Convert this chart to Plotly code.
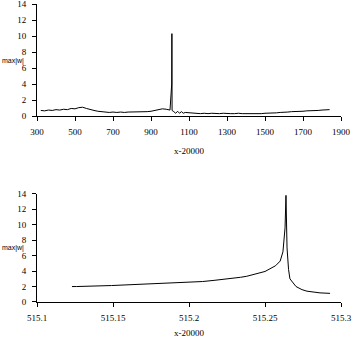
import plotly.graph_objects as go
from plotly.subplots import make_subplots

# Upper panel: max|w| over the full x-20000 range
x_full = [320, 340, 360, 380, 400, 420, 440, 460, 480, 500, 520, 540, 560, 580,
          600, 620, 640, 660, 680, 700, 720, 740, 760, 780, 800, 820, 840, 860,
          880, 900, 920, 940, 960, 980, 1000, 1009, 1010, 1011, 1020, 1030, 1040,
          1050, 1060, 1070, 1080, 1100, 1120, 1140, 1160, 1180, 1200, 1220, 1240,
          1260, 1280, 1300, 1320, 1340, 1360, 1380, 1400, 1420, 1440, 1460, 1480,
          1500, 1520, 1540, 1560, 1580, 1600, 1620, 1640, 1660, 1680, 1700, 1720,
          1740, 1760, 1780, 1800, 1820, 1840]
w_full = [0.70, 0.65, 0.75, 0.70, 0.80, 0.75, 0.85, 0.80, 0.95, 0.90, 1.05, 1.10,
          0.95, 0.80, 0.70, 0.60, 0.55, 0.50, 0.45, 0.50, 0.45, 0.50, 0.45, 0.50,
          0.50, 0.55, 0.50, 0.55, 0.55, 0.60, 0.70, 0.80, 0.90, 0.85, 0.75, 4.00,
          10.30, 0.70, 0.55, 0.35, 0.60, 0.35, 0.55, 0.35, 0.45, 0.40, 0.35, 0.35,
          0.30, 0.35, 0.30, 0.35, 0.30, 0.30, 0.35, 0.30, 0.30, 0.30, 0.35, 0.30,
          0.30, 0.25, 0.25, 0.30, 0.30, 0.35, 0.35, 0.40, 0.40, 0.45, 0.45, 0.50,
          0.55, 0.55, 0.60, 0.60, 0.65, 0.65, 0.70, 0.70, 0.75, 0.75, 0.80]

# Lower panel: detail around the resonance near x-20000 = 515.264
x_zoom = [515.123, 515.126, 515.149, 515.172, 515.1875, 515.200, 515.209,
          515.2165, 515.225, 515.230, 515.234, 515.238, 515.2415, 515.245,
          515.2474, 515.250, 515.257, 515.260, 515.2618, 515.2625, 515.2632,
          515.2638, 515.2645, 515.2655, 515.2664, 515.2704, 515.2743, 515.2776,
          515.2816, 515.2862, 515.2928]
w_zoom = [2.00, 2.00, 2.13, 2.30, 2.40, 2.50, 2.65, 2.80, 2.95, 3.07, 3.20, 3.33,
          3.50, 3.65, 3.80, 3.95, 4.70, 5.30, 6.50, 7.80, 9.60, 13.80, 7.00, 4.20,
          3.00, 2.00, 1.60, 1.40, 1.26, 1.18, 1.12]

top_ticks = [300, 500, 700, 900, 1100, 1300, 1500, 1700, 1900]
bottom_ticks = [515.1, 515.15, 515.2, 515.25, 515.3]
bottom_tick_text = ["515.1", "515.15", "515.2", "515.25", "515.3"]
y_ticks = [0, 2, 4, 6, 8, 10, 12, 14]

serif = "Liberation Serif"

fig = make_subplots(rows=2, cols=1, vertical_spacing=0.26)
fig.add_trace(go.Scatter(x=x_full, y=w_full, mode="lines",
                         line=dict(color="black", width=1)), row=1, col=1)
fig.add_trace(go.Scatter(x=x_zoom, y=w_zoom, mode="lines",
                         line=dict(color="black", width=1)), row=2, col=1)

axis_style = dict(showline=True, linecolor="black", linewidth=1, ticks="outside",
                  ticklen=4, tickcolor="black", tickwidth=1, showgrid=False,
                  zeroline=False, tickfont=dict(family=serif, size=9, color="black"),
                  mirror=False, automargin=False, ticklabeloverflow="allow")

fig.update_xaxes(**axis_style, range=[300, 1900], tickvals=top_ticks,
                 ticklabelstandoff=3, row=1, col=1)
fig.update_xaxes(**axis_style, range=[515.1, 515.3], tickvals=bottom_ticks,
                 ticktext=bottom_tick_text, ticklabelstandoff=3, row=2, col=1)
fig.update_yaxes(**axis_style, range=[0, 14], tickvals=y_ticks,
                 ticklabelstandoff=4, row=1, col=1)
fig.update_yaxes(**axis_style, range=[0, 14], tickvals=y_ticks,
                 ticklabelstandoff=4, row=2, col=1)

fig.update_layout(
    yaxis=dict(domain=[0.624, 1.0]),
    yaxis2=dict(domain=[0.0, 0.363]),
    width=355, height=340,
    margin=dict(l=37, r=14, t=4, b=38, autoexpand=False),
    plot_bgcolor="white", paper_bgcolor="white",
    showlegend=False,
)

# Axis titles placed as annotations
annots = [
    dict(text="max|w|", x=-0.122, y=0.81, xanchor="left", yanchor="middle",
         font=dict(family="Liberation Sans", size=7, color="black")),
    dict(text="max|w|", x=-0.122, y=0.18, xanchor="left", yanchor="middle",
         font=dict(family="Liberation Sans", size=7, color="black")),
    dict(text="x-20000", x=0.5, y=0.507, xanchor="center", yanchor="middle",
         font=dict(family=serif, size=9, color="black")),
    dict(text="x-20000", x=0.5, y=-0.105, xanchor="center", yanchor="middle",
         font=dict(family=serif, size=9, color="black")),
]
for a in annots:
    fig.add_annotation(xref="paper", yref="paper", showarrow=False, **a)

fig.write_html("out.html")
